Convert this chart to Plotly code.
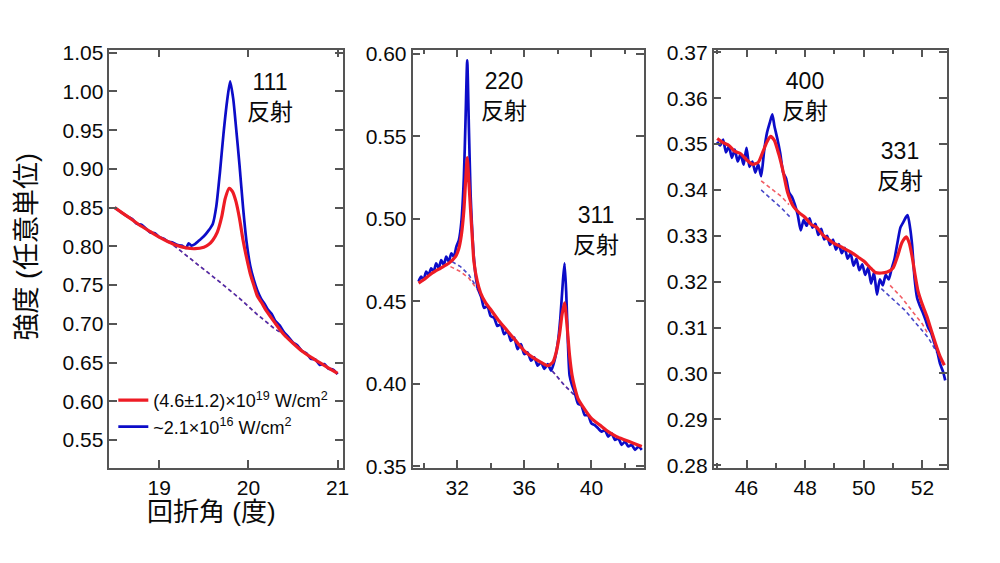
import plotly.graph_objects as go

# ---------------- data ----------------
# Panel 1 (111 reflection)
p1_red_x = [18.50, 18.60, 18.70, 18.80, 18.90, 19.00, 19.10, 19.20, 19.30, 19.40, 19.50, 19.55, 19.60, 19.65,
            19.70, 19.74, 19.785, 19.82, 19.86, 19.90, 19.94, 19.98, 20.02, 20.06, 20.10, 20.15, 20.20, 20.30,
            20.40, 20.50, 20.60, 20.70, 20.80, 20.90, 21.00]
p1_red_y = [0.850, 0.842, 0.834, 0.826, 0.819, 0.812, 0.806, 0.801, 0.798, 0.797, 0.799, 0.802, 0.808, 0.818,
            0.838, 0.862, 0.875, 0.871, 0.858, 0.836, 0.808, 0.785, 0.765, 0.750, 0.736, 0.727, 0.717, 0.701,
            0.686, 0.675, 0.665, 0.657, 0.650, 0.643, 0.636]
p1_blue_x = [18.50, 18.55, 18.60, 18.65, 18.70, 18.75, 18.80, 18.85, 18.90, 18.95, 19.00, 19.05, 19.10, 19.15,
             19.20, 19.25, 19.30, 19.33, 19.36, 19.40, 19.45, 19.50, 19.55, 19.60, 19.64, 19.68, 19.72, 19.76,
             19.795, 19.83, 19.86, 19.90, 19.94, 19.98, 20.02, 20.06, 20.10, 20.14, 20.18, 20.22, 20.26, 20.30,
             20.35, 20.40, 20.45, 20.50, 20.55, 20.60, 20.65, 20.70, 20.75, 20.80, 20.85, 20.90, 20.95, 21.00]
p1_blue_y = [0.850, 0.846, 0.842, 0.838, 0.835, 0.829, 0.828, 0.823, 0.818, 0.817, 0.812, 0.810, 0.806, 0.805,
             0.802, 0.801, 0.798, 0.804, 0.801, 0.803, 0.808, 0.813, 0.820, 0.829, 0.852, 0.895, 0.945, 0.987,
             1.013, 0.990, 0.955, 0.905, 0.850, 0.805, 0.775, 0.757, 0.743, 0.733, 0.726, 0.718, 0.713, 0.704,
             0.698, 0.689, 0.683, 0.676, 0.672, 0.665, 0.662, 0.655, 0.654, 0.647, 0.648, 0.642, 0.641, 0.635]
p1_base_x = [19.10, 19.30, 19.50, 19.70, 19.90, 20.10, 20.30, 20.45]
p1_base_y = [0.807, 0.789, 0.771, 0.752, 0.733, 0.712, 0.693, 0.683]

# Panel 2 (220 / 311 reflections)
p2_red_x = [29.70, 30.00, 30.50, 31.00, 31.50, 31.90, 32.10, 32.25, 32.40, 32.50, 32.60, 32.70, 32.80, 32.90,
            33.00, 33.20, 33.40, 33.70, 34.00, 34.50, 35.00, 35.50, 36.00, 36.50, 37.00, 37.40, 37.70, 37.90,
            38.10, 38.25, 38.40, 38.55, 38.70, 38.85, 39.00, 39.20, 39.50, 40.00, 40.50, 41.00, 41.50, 42.00,
            42.50, 43.00]
p2_red_y = [0.461, 0.463, 0.467, 0.470, 0.473, 0.477, 0.482, 0.490, 0.505, 0.522, 0.537, 0.522, 0.505, 0.489,
            0.474, 0.462, 0.455, 0.449, 0.445, 0.438, 0.432, 0.426, 0.420, 0.416, 0.413, 0.411, 0.413, 0.419,
            0.430, 0.442, 0.449, 0.435, 0.417, 0.405, 0.398, 0.391, 0.386, 0.379, 0.375, 0.371, 0.368, 0.366,
            0.364, 0.362]
p2_blue_x = [29.70, 29.85, 30.00, 30.15, 30.30, 30.45, 30.60, 30.75, 30.90, 31.05, 31.20, 31.35, 31.50, 31.65,
             31.80, 31.95, 32.10, 32.25, 32.40, 32.50, 32.60, 32.70, 32.80, 32.90, 33.00, 33.15, 33.30, 33.45,
             33.60, 33.80, 34.00, 34.20, 34.40, 34.60, 34.80, 35.00, 35.20, 35.40, 35.60, 35.80, 36.00, 36.20,
             36.40, 36.60, 36.80, 37.00, 37.20, 37.40, 37.60, 37.80, 38.00, 38.15, 38.30, 38.40, 38.50, 38.60,
             38.70, 38.85, 39.00, 39.20, 39.40, 39.60, 39.80, 40.00, 40.20, 40.40, 40.60, 40.80, 41.00, 41.20,
             41.40, 41.60, 41.80, 42.00, 42.20, 42.40, 42.60, 42.80, 43.00]
p2_blue_y = [0.462, 0.465, 0.463, 0.468, 0.466, 0.470, 0.468, 0.473, 0.470, 0.475, 0.472, 0.477, 0.474, 0.479,
             0.477, 0.483, 0.487, 0.498, 0.525, 0.560, 0.596, 0.555, 0.515, 0.492, 0.476, 0.462, 0.456, 0.452,
             0.446, 0.447, 0.441, 0.440, 0.435, 0.436, 0.430, 0.432, 0.426, 0.428, 0.421, 0.424, 0.418, 0.419,
             0.414, 0.416, 0.411, 0.413, 0.409, 0.412, 0.408, 0.414, 0.425, 0.440, 0.462, 0.473, 0.455, 0.425,
             0.405, 0.399, 0.395, 0.388, 0.387, 0.381, 0.381, 0.376, 0.375, 0.373, 0.371, 0.372, 0.368, 0.370,
             0.366, 0.367, 0.363, 0.365, 0.362, 0.363, 0.360, 0.362, 0.360]
p2_red_base1_x = [31.60, 32.20, 32.70, 33.20, 33.50]
p2_red_base1_y = [0.471, 0.468, 0.464, 0.457, 0.453]
p2_blue_base1_x = [31.70, 32.20, 32.70, 33.20, 33.50]
p2_blue_base1_y = [0.474, 0.471, 0.466, 0.458, 0.453]
p2_base2_x = [37.40, 37.90, 38.40, 38.90, 39.20]
p2_base2_y = [0.411, 0.405, 0.399, 0.394, 0.391]

# Panel 3 (400 / 331 reflections)
p3_red_x = [45.00, 45.20, 45.40, 45.60, 45.80, 46.00, 46.20, 46.40, 46.55, 46.70, 46.82, 46.95, 47.10, 47.25,
            47.40, 47.60, 47.80, 48.00, 48.20, 48.40, 48.60, 48.80, 49.00, 49.20, 49.40, 49.60, 49.80, 50.00,
            50.20, 50.40, 50.60, 50.80, 51.00, 51.15, 51.30, 51.45, 51.55, 51.65, 51.75, 51.85, 52.00, 52.15,
            52.30, 52.45, 52.60, 52.75]
p3_red_y = [0.3512, 0.3503, 0.3497, 0.3484, 0.3479, 0.3466, 0.3456, 0.3460, 0.3482, 0.3505, 0.3517, 0.3508,
            0.3478, 0.3440, 0.3395, 0.3364, 0.3350, 0.3340, 0.3325, 0.3318, 0.3302, 0.3292, 0.3283, 0.3277,
            0.3270, 0.3263, 0.3254, 0.3245, 0.3232, 0.3220, 0.3219, 0.3221, 0.3230, 0.3255, 0.3285, 0.3298,
            0.3285, 0.3255, 0.3215, 0.3180, 0.3150, 0.3125, 0.3095, 0.3065, 0.3038, 0.3018]
p3_blue_x = [45.00, 45.10, 45.20, 45.30, 45.40, 45.50, 45.60, 45.70, 45.80, 45.90, 46.00, 46.10, 46.20, 46.30,
             46.40, 46.50, 46.60, 46.70, 46.80, 46.88, 46.95, 47.05, 47.15, 47.25, 47.35, 47.45, 47.55, 47.65,
             47.75, 47.85, 47.95, 48.05, 48.15, 48.25, 48.35, 48.45, 48.55, 48.65, 48.75, 48.85, 48.95, 49.05,
             49.15, 49.25, 49.35, 49.45, 49.55, 49.65, 49.75, 49.85, 49.95, 50.05, 50.15, 50.25, 50.35, 50.45,
             50.55, 50.65, 50.75, 50.85, 50.95, 51.05, 51.15, 51.25, 51.35, 51.45, 51.50, 51.58, 51.65, 51.73,
             51.82, 51.90, 52.00, 52.10, 52.20, 52.30, 52.40, 52.50, 52.60, 52.70, 52.78]
p3_blue_y = [0.3505, 0.3497, 0.3510, 0.3482, 0.3495, 0.3470, 0.3488, 0.3462, 0.3478, 0.3455, 0.3492, 0.3450,
             0.3462, 0.3438, 0.3456, 0.3430, 0.3485, 0.3525, 0.3548, 0.3565, 0.3540, 0.3512, 0.3480, 0.3438,
             0.3425, 0.3395, 0.3385, 0.3368, 0.3345, 0.3312, 0.3335, 0.3322, 0.3338, 0.3318, 0.3326, 0.3302,
             0.3315, 0.3292, 0.3300, 0.3280, 0.3292, 0.3270, 0.3282, 0.3262, 0.3274, 0.3250, 0.3262, 0.3235,
             0.3250, 0.3225, 0.3238, 0.3215, 0.3230, 0.3196, 0.3220, 0.3172, 0.3205, 0.3192, 0.3215, 0.3205,
             0.3228, 0.3250, 0.3285, 0.3318, 0.3330, 0.3342, 0.3345, 0.3318, 0.3280, 0.3210, 0.3165, 0.3150,
             0.3135, 0.3118, 0.3100, 0.3088, 0.3068, 0.3050, 0.3022, 0.3005, 0.2985]
p3_red_base1_x = [46.50, 46.90, 47.20, 47.45]
p3_red_base1_y = [0.3420, 0.3400, 0.3385, 0.3368]
p3_blue_base1_x = [46.50, 46.90, 47.20, 47.50]
p3_blue_base1_y = [0.3400, 0.3378, 0.3360, 0.3340]
p3_red_base2_x = [50.90, 51.30, 51.70, 52.00, 52.20]
p3_red_base2_y = [0.3192, 0.3165, 0.3132, 0.3108, 0.3085]
p3_blue_base2_x = [50.60, 51.00, 51.40, 51.80, 52.20, 52.50]
p3_blue_base2_y = [0.3185, 0.3162, 0.3138, 0.3108, 0.3078, 0.3045]

legend_red = "(4.6±1.2)×10<sup>19</sup> W/cm<sup>2</sup>"
legend_blue = "~2.1×10<sup>16</sup> W/cm<sup>2</sup>"

peak_labels = ["111<br>反射", "220<br>反射", "311<br>反射", "400<br>反射", "331<br>反射"]
peak_label_xy = [(272, 91), (507, 90), (600, 229), (810, 90), (905, 163)]

# ---------------- style ----------------
RED = "#ee1c25"
BLUE = "#0c0cc8"
BLUE_DASH = "rgba(40,40,190,0.85)"
RED_DASH = "rgba(238,40,50,0.75)"
AX = "#555555"
TXT = "#0a0a0a"
FONT = "Liberation Sans, Arial, Noto Sans CJK JP, sans-serif"
W, H = 1000, 563

fig = go.Figure()


def add_dash(x, y, color, xa, ya):
    fig.add_trace(go.Scatter(x=x, y=y, mode="lines", xaxis=xa, yaxis=ya, showlegend=False,
                             line=dict(color=color, width=1.6, dash="4px,3px"), hoverinfo="skip"))


def add_line(x, y, color, width, xa, ya, name=None, show=False, rank=None):
    fig.add_trace(go.Scatter(x=x, y=y, mode="lines", xaxis=xa, yaxis=ya, name=name or "",
                             showlegend=show, legendrank=rank if rank else 1000,
                             line=dict(color=color, width=width, shape="spline", smoothing=0.6)))


# panel 1
add_dash(p1_base_x, p1_base_y, RED_DASH, "x", "y")
add_dash(p1_base_x, p1_base_y, BLUE_DASH, "x", "y")
add_line(p1_blue_x, p1_blue_y, BLUE, 2.7, "x", "y", legend_blue, True, 2)
add_line(p1_red_x, p1_red_y, RED, 3.2, "x", "y", legend_red, True, 1)
# panel 2
add_dash(p2_red_base1_x, p2_red_base1_y, RED_DASH, "x2", "y2")
add_dash(p2_blue_base1_x, p2_blue_base1_y, BLUE_DASH, "x2", "y2")
add_dash(p2_base2_x, p2_base2_y, RED_DASH, "x2", "y2")
add_dash(p2_base2_x, p2_base2_y, BLUE_DASH, "x2", "y2")
add_line(p2_blue_x, p2_blue_y, BLUE, 2.7, "x2", "y2")
add_line(p2_red_x, p2_red_y, RED, 3.2, "x2", "y2")
# panel 3
add_dash(p3_red_base1_x, p3_red_base1_y, RED_DASH, "x3", "y3")
add_dash(p3_blue_base1_x, p3_blue_base1_y, BLUE_DASH, "x3", "y3")
add_dash(p3_red_base2_x, p3_red_base2_y, RED_DASH, "x3", "y3")
add_dash(p3_blue_base2_x, p3_blue_base2_y, BLUE_DASH, "x3", "y3")
add_line(p3_blue_x, p3_blue_y, BLUE, 2.7, "x3", "y3")
add_line(p3_red_x, p3_red_y, RED, 3.2, "x3", "y3")

ydom = [1 - 475 / H, 1 - 42 / H]
common = dict(showline=True, linecolor=AX, linewidth=1.6, mirror="ticks", ticks="inside",
              ticklen=8, tickwidth=1.6, tickcolor=AX, showgrid=False, zeroline=False,
              tickfont=dict(family=FONT, size=21, color=TXT))

fig.update_layout(
    width=W, height=H, margin=dict(l=0, r=0, t=0, b=0),
    paper_bgcolor="white", plot_bgcolor="white",
    font=dict(family=FONT, color=TXT),
    xaxis=dict(domain=[0.110, 0.345], range=[18.44, 21.06], tickvals=[19, 20, 21], anchor="y", **common),
    yaxis=dict(domain=ydom, range=[0.514, 1.054], dtick=0.05, tickformat=".2f", anchor="x", **common),
    xaxis2=dict(domain=[0.415, 0.648], range=[29.34, 43.14], tickvals=[32, 36, 40], anchor="y2",
                minor=dict(tickvals=[30, 34, 38, 42], ticklen=5, tickwidth=1.5, tickcolor=AX, ticks="inside"),
                **common),
    yaxis2=dict(domain=ydom, range=[0.349, 0.6025], dtick=0.05, tickformat=".2f", anchor="x2", **common),
    xaxis3=dict(domain=[0.718, 0.953], range=[44.88, 52.85], tickvals=[46, 48, 50, 52], anchor="y3",
                minor=dict(tickvals=[45, 47, 49, 51], ticklen=5, tickwidth=1.5, tickcolor=AX, ticks="inside"),
                **common),
    yaxis3=dict(domain=ydom, range=[0.2794, 0.3706], dtick=0.01, tickformat=".2f", anchor="x3", **common),
    legend=dict(x=0.114, y=1 - 386 / H, xanchor="left", yanchor="top", bgcolor="rgba(0,0,0,0)",
                font=dict(family=FONT, size=18, color=TXT), tracegroupgap=0, itemwidth=30),
    showlegend=True,
)

for txt, (px, py) in zip(peak_labels, peak_label_xy):
    fig.add_annotation(text=txt, x=px / W, y=1 - py / H, xref="paper", yref="paper", showarrow=False,
                       xanchor="center", yanchor="middle", align="center",
                       font=dict(family=FONT, size=23, color=TXT))

fig.add_annotation(text="強度 (任意単位)", x=27 / W, y=1 - 246 / H, xref="paper", yref="paper",
                   showarrow=False, textangle=-90, xanchor="center", yanchor="middle",
                   font=dict(family=FONT, size=27, color=TXT))
fig.add_annotation(text="回折角 (度)", x=213 / W, y=1 - 521 / H, xref="paper", yref="paper",
                   showarrow=False, xanchor="center", yanchor="middle",
                   font=dict(family=FONT, size=26, color=TXT))

fig.write_html("out.html")
